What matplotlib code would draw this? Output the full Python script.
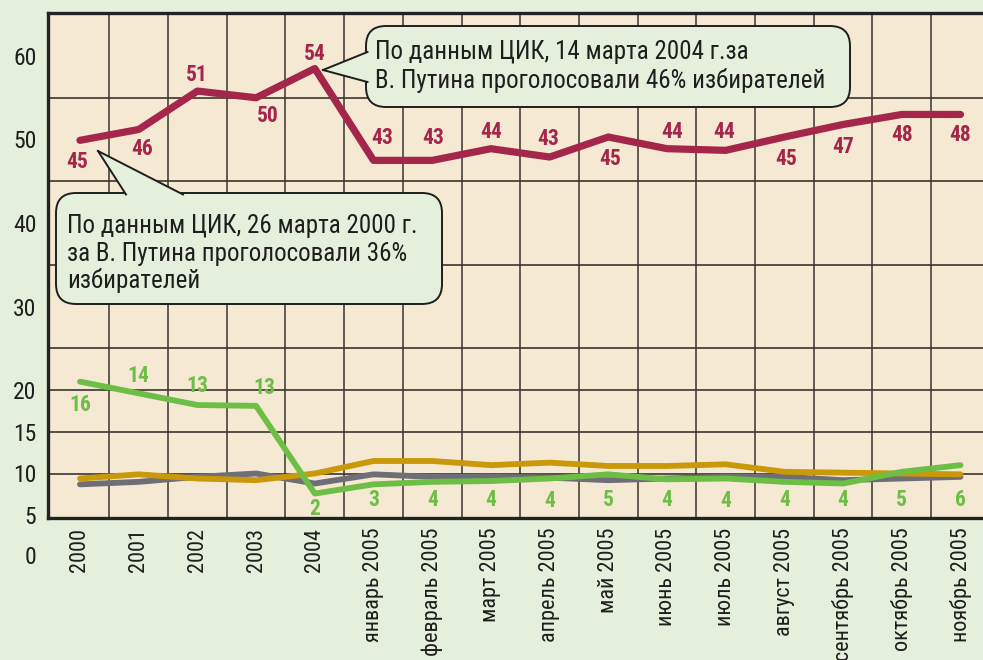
"""Рейтинг партий 2000-2005: линии с подписями и выносками ЦИК."""

import matplotlib

matplotlib.use("Agg")

import matplotlib.pyplot as plt
from matplotlib import font_manager
from matplotlib.lines import Line2D
from matplotlib.patches import FancyBboxPatch, Polygon
from matplotlib.transforms import IdentityTransform

# --- data -----------------------------------------------------------------
periods = [
    "2000", "2001", "2002", "2003", "2004",
    "январь 2005", "февраль 2005", "март 2005", "апрель 2005", "май 2005",
    "июнь 2005", "июль 2005", "август 2005", "сентябрь 2005",
    "октябрь 2005", "ноябрь 2005",
]

# line heights as drawn against the left scale
red_line = [49.9, 51.2, 55.8, 55.0, 58.5, 47.5, 47.5, 48.9, 47.9, 50.3,
            48.9, 48.7, 50.3, 51.8, 53.0, 53.0]
green_line = [21.0, 19.6, 18.2, 18.1, 7.6, 8.7, 9.0, 9.1, 9.4, 9.9,
              9.3, 9.4, 9.0, 8.8, 10.2, 11.0]
gray_line = [8.7, 9.0, 9.6, 10.0, 8.8, 9.9, 9.6, 9.6, 9.5, 9.2,
             9.4, 9.6, 9.6, 9.2, 9.4, 9.6]
gold_line = [9.4, 9.9, 9.4, 9.2, 10.0, 11.5, 11.5, 11.0, 11.3, 10.9,
             10.9, 11.1, 10.2, 10.1, 10.0, 9.9]

# printed values
red_labels = [45, 46, 51, 50, 54, 43, 43, 44, 43, 45, 44, 44, 45, 47, 48, 48]
green_labels = [16, 14, 13, 13, 2, 3, 4, 4, 4, 5, 4, 4, 4, 4, 5, 6]

y_ticks = [0, 5, 10, 15, 20, 30, 40, 50, 60]
h_grid = [10, 15, 20, 25, 35, 45, 55]

# label placement (pixels, +down)
red_dx = [-3, 3, -1, 12, 0, 9, 1, 0, -1, 2, 5, -2, 2, 0, 0, 0]
red_dy = [22, 20, -16, 18, -15, -22, -22, -17, -18, 22, -17, -18, 22, 23, 21, 21]
green_dx = [0, 0, 0, 8, 0, 0, 0, 0, 0, 0, 0, 0, 0, 0, 0, 0]
green_dy = [23, -17, -19, -18, 15, 16, 18, 19, 22, 26, 21, 22, 18, 16, 28, 35]

# --- style ----------------------------------------------------------------
W, H = 983, 660
BG = "#E4F0DC"
PLOT_BG = "#F5E9D4"
RED = "#A5264B"
GREEN = "#6DBE45"
GOLD = "#C9990A"
GRAY = "#6E6E76"
INK = "#1E1E1E"
GRID = "#3A342E"

names = {f.name for f in font_manager.fontManager.ttflist}
narrow = "Liberation Sans"
for cand in ["Liberation Sans Narrow", "Roboto Condensed", "Open Sans Condensed"]:
    if cand in names:
        narrow = cand
        break
plt.rcParams["font.family"] = [narrow, "DejaVu Sans"]

fig = plt.figure(figsize=(W / 100, H / 100), dpi=100, facecolor=BG)

# axes in pixels: left 47.5, top 13, bottom 518, points 58.7 px apart
left_px, top_px, bottom_px, right_px = 47.5, 13, 518, 995
ax = fig.add_axes([left_px / W, 1 - bottom_px / H,
                   (right_px - left_px) / W, (bottom_px - top_px) / H])
ax.set_facecolor(PLOT_BG)

step = 58.7
x = list(range(len(periods)))
ax.set_xlim((left_px - 80) / step, (right_px - 80) / step)
ax.set_ylim((557 - bottom_px) / 8.35, (557 - top_px) / 8.35)

for i in range(len(periods) - 1):
    ax.axvline(i + 0.5, color=GRID, lw=1.1, zorder=1)
for g in h_grid:
    ax.axhline(g, color=GRID, lw=1.2, zorder=1)

ax.plot(x, gray_line, color=GRAY, lw=4.2, solid_capstyle="round", zorder=3)
ax.plot(x, gold_line, color=GOLD, lw=4.2, solid_capstyle="round", zorder=3)
ax.plot(x, green_line, color=GREEN, lw=4.2, solid_capstyle="round", zorder=4)
ax.plot(x, red_line, color=RED, lw=5.2, solid_capstyle="round", zorder=4)

for xi, v, lab, dx, dy in zip(x, red_line, red_labels, red_dx, red_dy):
    ax.annotate(str(lab), (xi, v), xytext=(dx, -dy), textcoords="offset pixels",
                ha="center", va="center", color=RED, fontsize=15.5,
                fontweight="bold", zorder=5)
for xi, v, lab, dx, dy in zip(x, green_line, green_labels, green_dx, green_dy):
    ax.annotate(str(lab), (xi, v), xytext=(dx, -dy), textcoords="offset pixels",
                ha="center", va="center", color=GREEN, fontsize=15.5,
                fontweight="bold", zorder=5)

# axes frame
for side in ["top", "left", "bottom"]:
    ax.spines[side].set_linewidth(2.4)
    ax.spines[side].set_color("#222222")
ax.spines["right"].set_visible(False)

ax.set_xticks(x)
ax.set_xticklabels(periods, rotation=90, fontsize=16, color=INK)
visible_ticks = [t for t in y_ticks if t > 0]
ax.set_yticks(visible_ticks)
ax.set_yticklabels([str(t) for t in visible_ticks], fontsize=17, color=INK)
ax.tick_params(length=0, pad=8)
ax.tick_params(axis="x", pad=7)
ax.annotate(str(y_ticks[0]), (0, y_ticks[0]), xycoords=("axes fraction", "data"),
            xytext=(-8, 0), textcoords="offset points", ha="right", va="center",
            fontsize=17, color=INK)


# --- callouts (image pixels, origin top-left) -----------------------------
def px(xp, yp):
    return (xp, H - yp)


def callout(box, pointer, lines, text_x, baselines):
    x0, y0, x1, y1 = box
    patch = FancyBboxPatch(px(x0, y1), x1 - x0, y1 - y0,
                           boxstyle="round,pad=0,rounding_size=20",
                           transform=IdentityTransform(), fc=BG, ec=INK,
                           lw=1.4, zorder=8, clip_on=False)
    ax.add_patch(patch)
    a, tip, b = pointer
    ax.add_patch(Polygon([px(*a), px(*tip), px(*b)], closed=True,
                         transform=IdentityTransform(), fc=BG, ec="none",
                         zorder=9, clip_on=False))
    for end in (a, b):
        (xa, ya), (xb, yb) = px(*end), px(*tip)
        ax.add_line(Line2D([xa, xb], [ya, yb], transform=IdentityTransform(),
                           color=INK, lw=1.4, zorder=9, clip_on=False))
    for line, base in zip(lines, baselines):
        ax.text(*px(text_x, base), line, transform=IdentityTransform(),
                ha="left", va="baseline", fontsize=18, color=INK, zorder=10)


callout((366, 26, 850, 107),
        ((367.5, 52), (323, 70), (367.5, 82)),
        ["По данным ЦИК, 14 марта 2004 г.за",
         "В. Путина проголосовали 46% избирателей"],
        375, [59, 88])

callout((56, 193, 442, 304),
        ((126, 194.5), (98, 151), (183, 194.5)),
        ["По данным ЦИК, 26 марта 2000 г.",
         "за В. Путина проголосовали 36%",
         "избирателей"],
        67, [233, 261, 288])

fig.savefig("out.png", dpi=100, facecolor=BG)
